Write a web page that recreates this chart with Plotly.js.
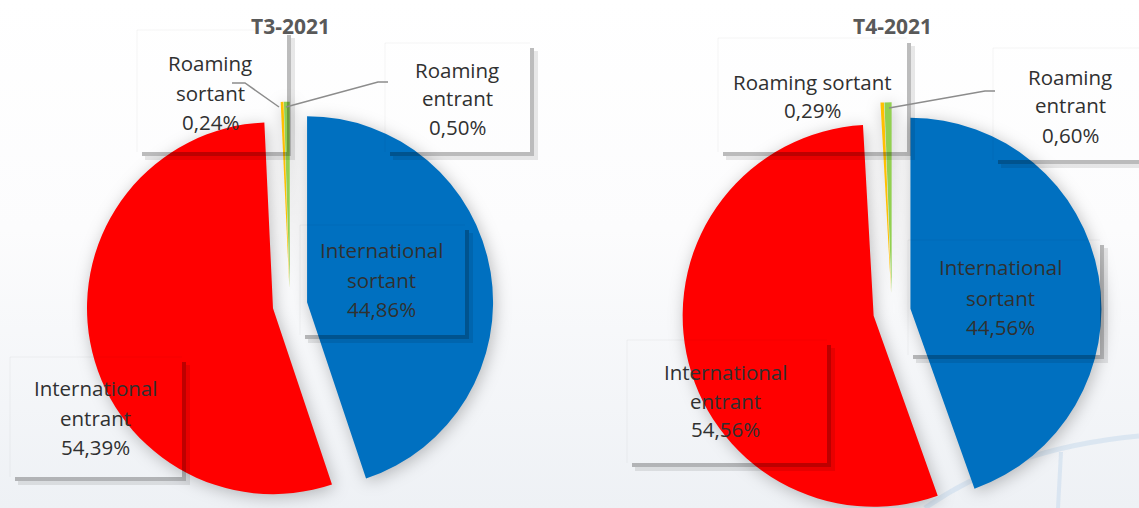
<!DOCTYPE html>
<html><head><meta charset="utf-8">
<script src="https://cdn.plot.ly/plotly-3.0.1.min.js"></script>
<style>
html,body{margin:0;padding:0;}
body{width:1139px;height:508px;overflow:hidden;background:linear-gradient(180deg,#ffffff 0%,#fcfcfd 45%,#eef1f5 100%);}
#wrap{position:relative;width:1139px;height:508px;overflow:hidden;}
#chart{position:absolute;left:0;top:0;width:1139px;height:620px;}
#chart .pielayer .trace{filter:drop-shadow(2px 3px 8px rgba(0,0,0,0.25));}
</style></head><body>
<div id="wrap"><div id="chart"></div></div>
<script>
// ---- data ----
const categories = ["International sortant", "International entrant", "Roaming sortant", "Roaming entrant"];
const valuesT3 = [44.86, 54.39, 0.24, 0.50];
const valuesT4 = [44.56, 54.56, 0.29, 0.60];
const titles = ["T3-2021", "T4-2021"];
const wrapT3 = [true, true, true, true];
const wrapT4 = [true, true, false, true];
const colors = ["#0070C0", "#FF0000", "#FFC000", "#92D050"];

// ---- layout geometry (pixels) ----
const W = 1139, H = 620;
const X = x => x / W, Y = y => 1 - y / H;
const pies = [
  {cx: 290, cy: 305, r: 186, pull: 0.093, bh: 430},
  {cx: 892, cy: 312, r: 191, pull: 0.098, bh: 440}
];
const labelPos = [
  [ {x: 381, ys: [250, 280, 309], box: [300, 225, 465, 335]},
    {x: 95,  ys: [388, 418, 447], box: [10, 357, 182, 477]},
    {x: 210, ys: [63, 93, 122],   box: [137, 30, 287, 152]},
    {x: 457, ys: [70, 98, 127],   box: [385, 43, 530, 152]} ],
  [ {x: 1000, ys: [267, 298, 327], box: [908, 240, 1100, 355]},
    {x: 726,  ys: [372, 401, 429], box: [627, 340, 827, 463]},
    {x: 812,  ys: [82, 110],       box: [718, 38, 907, 152]},
    {x: 1070, ys: [77, 105, 135],  box: [993, 48, 1150, 160]} ]
];
const leaders = [
  [[232, 83], [245, 83], [279, 107]],
  [[388, 82], [378, 82], [286, 107]],
  [[995, 91], [985, 91], [889, 108]]
];
const titleY = 26;

const allValues = [valuesT3, valuesT4];
const allWrap = [wrapT3, wrapT4];

const traces = allValues.map((vals, i) => {
  const g = pies[i];
  const bw = 2 * g.r * (1 + g.pull);
  const y0 = 1 - (g.cy + g.bh / 2) / H;
  return {
    type: 'pie',
    labels: categories,
    values: vals,
    sort: false,
    direction: 'clockwise',
    rotation: 0,
    pull: vals.map(() => g.pull),
    marker: {colors: colors, line: {width: 0}},
    textinfo: 'none',
    hoverinfo: 'label+percent',
    showlegend: false,
    domain: {x: [(g.cx - bw / 2) / W, (g.cx + bw / 2) / W], y: [y0, y0 + g.bh / H]}
  };
});

const fmt = v => v.toFixed(2).replace('.', ',') + '%';
const annotations = [];
const shapes = [];

// decorative background arc
shapes.push({type: 'path', xref: 'paper', yref: 'paper', layer: 'below',
  path: `M ${X(925)} ${Y(508)} Q ${X(1010)} ${Y(448)} ${X(1139)} ${Y(436)}`,
  line: {color: 'rgba(200,218,236,0.55)', width: 5}});
shapes.push({type: 'line', xref: 'paper', yref: 'paper', layer: 'below',
  x0: X(1061), y0: Y(452), x1: X(1058), y1: Y(508),
  line: {color: 'rgba(200,218,236,0.55)', width: 4}});

titles.forEach((t, i) => {
  annotations.push({text: '<b>' + t + '</b>', x: X(pies[i].cx), y: Y(titleY), xref: 'paper', yref: 'paper',
    showarrow: false, xanchor: 'center', yanchor: 'middle',
    font: {family: 'Open Sans', size: 21, color: '#595959'}});
});

allValues.forEach((vals, i) => {
  categories.forEach((c, k) => {
    const lp = labelPos[i][k];
    const lines = (allWrap[i][k] ? c.split(' ') : [c]).concat([fmt(vals[k])]);
    lines.forEach((ln, j) => {
      annotations.push({text: ln, x: X(lp.x), y: Y(lp.ys[j]), xref: 'paper', yref: 'paper',
        showarrow: false, xanchor: 'center', yanchor: 'middle',
        font: {family: 'Open Sans', size: 20.5, color: '#303030'}});
    });
    const [bx0, by0, bx1, by1] = lp.box;
    const rect = (a, b, c2, d, col) => shapes.push({type: 'rect', xref: 'paper', yref: 'paper', layer: 'above',
      x0: X(a), x1: X(c2), y0: Y(b), y1: Y(d), fillcolor: col, line: {width: 0}});
    rect(bx1, by0 + 5, bx1 + 4, by1 + 4, 'rgba(0,0,0,0.26)');
    rect(bx0 + 5, by1, bx1, by1 + 4, 'rgba(0,0,0,0.26)');
    rect(bx1 + 4, by0 + 8, bx1 + 8, by1 + 8, 'rgba(0,0,0,0.09)');
    rect(bx0 + 8, by1 + 4, bx1 + 4, by1 + 8, 'rgba(0,0,0,0.09)');
    shapes.push({type: 'line', xref: 'paper', yref: 'paper', layer: 'above',
      x0: X(bx0), y0: Y(by0), x1: X(bx1), y1: Y(by0), line: {color: 'rgba(0,0,0,0.04)', width: 1}});
    shapes.push({type: 'line', xref: 'paper', yref: 'paper', layer: 'above',
      x0: X(bx0), y0: Y(by0), x1: X(bx0), y1: Y(by1), line: {color: 'rgba(0,0,0,0.04)', width: 1}});
  });
});

leaders.forEach(pts => {
  const p = 'M ' + pts.map(q => X(q[0]) + ' ' + Y(q[1])).join(' L ');
  shapes.push({type: 'path', xref: 'paper', yref: 'paper', layer: 'above', path: p,
    line: {color: '#8C8C8C', width: 1.5}});
});

const layout = {
  width: W, height: H,
  margin: {l: 0, r: 0, t: 0, b: 0},
  paper_bgcolor: 'rgba(0,0,0,0)',
  plot_bgcolor: 'rgba(0,0,0,0)',
  font: {family: 'Open Sans'},
  annotations: annotations,
  shapes: shapes
};

Plotly.newPlot('chart', traces, layout, {displayModeBar: false, staticPlot: true});
</script>
</body></html>
